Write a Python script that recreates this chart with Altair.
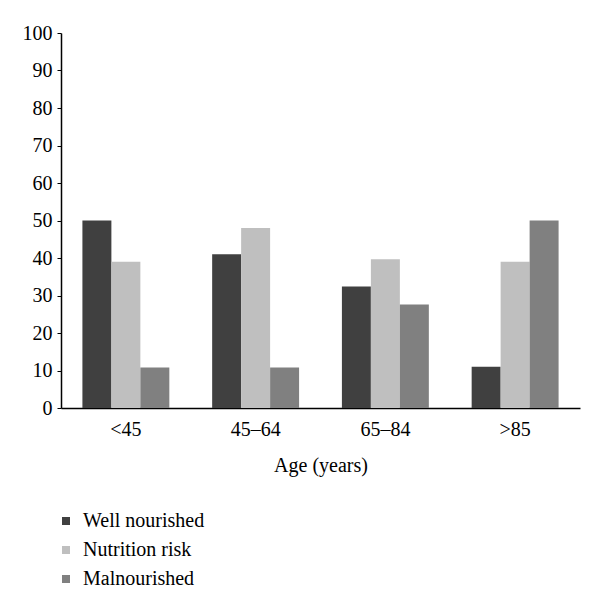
import altair as alt
import pandas as pd

ages = ["<45", "45–64", "65–84", ">85"]
groups = ["Well nourished", "Nutrition risk", "Malnourished"]
well = [50, 41, 32.4, 11]
risk = [39, 48, 39.7, 39]
mal = [10.8, 10.8, 27.6, 50]
colors = ["#404040", "#bfbfbf", "#808080"]

rows = []
for i, a in enumerate(ages):
    for g, vals in zip(groups, [well, risk, mal]):
        rows.append({"age": a, "group": g, "value": vals[i]})
df = pd.DataFrame(rows)

font = "Liberation Serif"

chart = alt.Chart(df).mark_bar().encode(
    x=alt.X("age:N", sort=ages,
            scale=alt.Scale(paddingInner=0.33, paddingOuter=0.165),
            axis=alt.Axis(title="Age (years)", labelAngle=0, ticks=False,
                          domainColor="black", domainWidth=1.5,
                          labelFont=font, labelFontSize=20, labelColor="black",
                          labelPadding=11, titleFont=font, titleFontSize=20,
                          titleFontWeight="normal", titleColor="black",
                          titlePadding=16)),
    xOffset=alt.XOffset("group:N", sort=groups, scale=alt.Scale(paddingInner=0, paddingOuter=0)),
    y=alt.Y("value:Q", scale=alt.Scale(domain=[0, 100]),
            axis=alt.Axis(title=None, values=list(range(0, 101, 10)), grid=False,
                          domainColor="black", domainWidth=1.5, tickColor="black",
                          tickSize=4, labelPadding=5,
                          labelFont=font, labelFontSize=20, labelColor="black")),
    color=alt.Color("group:N", sort=groups,
                    scale=alt.Scale(domain=groups, range=colors),
                    legend=alt.Legend(title=None, orient="none", legendX=-5, legendY=478,
                                      symbolType="square", symbolSize=64,
                                      symbolStrokeWidth=0,
                                      labelFont=font, labelFontSize=20,
                                      labelColor="black", rowPadding=9,
                                      labelOffset=7, labelLimit=300)),
).properties(
    width=519, height=375,
    autosize=alt.AutoSizeParams(type="none"),
    padding={"left": 53, "top": 25, "right": 10, "bottom": 183},
).configure_view(stroke=None)

chart.save("out.html", embed_options={"renderer": "svg", "actions": False})
